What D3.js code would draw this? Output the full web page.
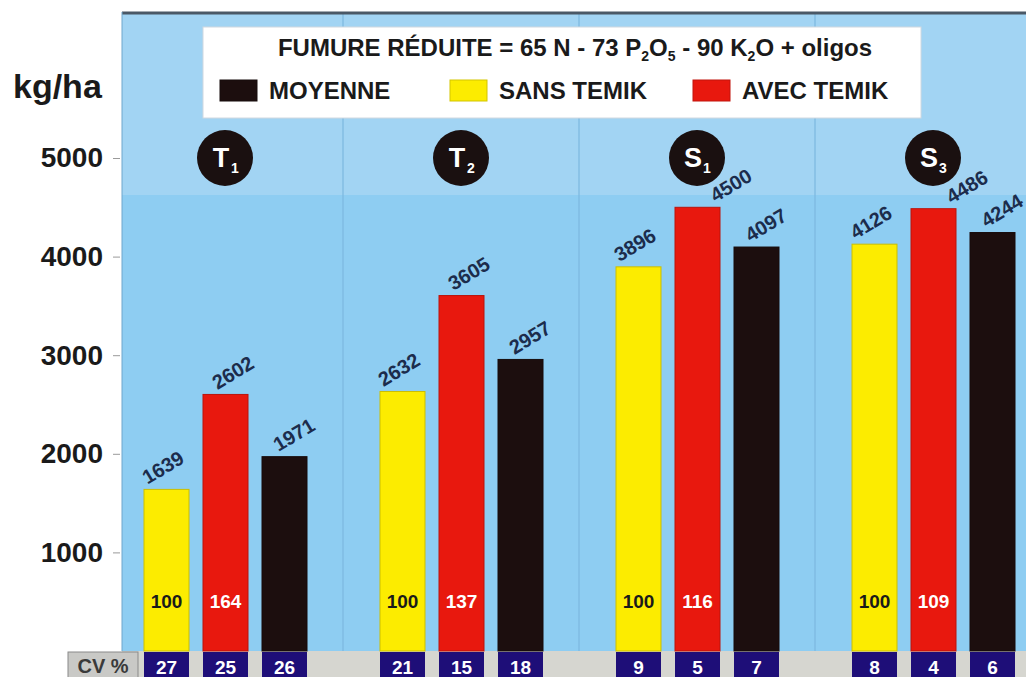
<!DOCTYPE html>
<html><head><meta charset="utf-8">
<script src="https://cdn.jsdelivr.net/npm/d3@7"></script>
<style>
html,body{margin:0;padding:0;background:#fff;overflow:hidden;}
text{font-family:"Liberation Sans",Arial,sans-serif;font-weight:bold;}
</style></head>
<body>
<svg id="chart" width="1026" height="677"></svg>
<script>
// ---- data ----
const groups = ["T1", "T2", "S1", "S3"];
const groupLetters = ["T", "T", "S", "S"];
const groupSubs = ["1", "2", "1", "3"];
const seriesNames = ["SANS TEMIK", "AVEC TEMIK", "MOYENNE"];
const sansTemik = [1639, 2632, 3896, 4126];
const avecTemik = [2602, 3605, 4500, 4486];
const moyenne = [1971, 2957, 4097, 4244];
const indexSans = [100, 100, 100, 100];
const indexAvec = [164, 137, 116, 109];
const cvSans = [27, 21, 9, 8];
const cvAvec = [25, 15, 5, 4];
const cvMoyenne = [26, 18, 7, 6];
const yTicks = [1000, 2000, 3000, 4000, 5000];
const legendOrder = ["MOYENNE", "SANS TEMIK", "AVEC TEMIK"];

// ---- styles ----
const colors = {"SANS TEMIK": "#fcec00", "AVEC TEMIK": "#e8180e", "MOYENNE": "#1c0e0e"};
const blue = "#8ecdf2", blueTop = "#a2d4f3";

const svg = d3.select("#chart");
const W = 1026, H = 677;
const plotLeft = 122, plotTop = 12, baseY = 651;

const x = d3.scaleBand().domain(groups).range([107, 1051]).padding(0);
const xi = d3.scaleBand().domain(seriesNames).range([30, 207]).paddingInner(14 / 59).paddingOuter(7 / 59);
const y = d3.scaleLinear().domain([0, 5000]).range([baseY, 158]);

// backgrounds
svg.append("rect").attr("x", plotLeft).attr("y", plotTop).attr("width", W - plotLeft).attr("height", baseY - plotTop).attr("fill", blue);
svg.append("rect").attr("x", plotLeft).attr("y", plotTop).attr("width", W - plotLeft).attr("height", 195 - plotTop).attr("fill", blueTop);
// panel separators
svg.selectAll("line.sep").data(groups.slice(1)).enter().append("line")
  .attr("x1", d => x(d)).attr("x2", d => x(d)).attr("y1", plotTop).attr("y2", baseY)
  .attr("stroke", "#7cb8e0").attr("stroke-width", 1.2);
// top border
svg.append("line").attr("x1", plotLeft).attr("x2", W).attr("y1", plotTop + 1).attr("y2", plotTop + 1)
  .attr("stroke", "#4a5866").attr("stroke-width", 3);
svg.append("line").attr("x1", plotLeft).attr("x2", plotLeft).attr("y1", plotTop).attr("y2", baseY)
  .attr("stroke", "#6fa6cc").attr("stroke-width", 1);

// CV row
svg.append("rect").attr("x", plotLeft).attr("y", baseY).attr("width", W - plotLeft).attr("height", H - baseY).attr("fill", "#d6d6d0");
svg.append("rect").attr("x", 68).attr("y", baseY + 1).attr("width", 70).attr("height", H - baseY).attr("fill", "#c9c9c6")
  .attr("stroke", "#8a8a8a").attr("stroke-width", 1);
svg.append("text").attr("x", 103).attr("y", 673).attr("text-anchor", "middle").attr("font-size", 20).attr("fill", "#3a3a3a").text("CV %");

// y axis
const yAxis = d3.axisLeft(y).tickValues(yTicks).tickSize(7).tickPadding(10).tickFormat(d3.format("d"));
const gy = svg.append("g").attr("transform", `translate(${plotLeft - 2},0)`).call(yAxis);
gy.select(".domain").remove();
gy.selectAll(".tick line").attr("stroke", "#9a9a9a");
gy.selectAll(".tick text").attr("font-size", 28).attr("fill", "#1a1a1a")
  .attr("font-family", "'Liberation Sans',Arial,sans-serif").attr("font-weight", "bold");
svg.append("text").attr("x", 13).attr("y", 98).attr("font-size", 34).attr("fill", "#1a1a1a").text("kg/ha");

// bars data
const rows = [];
groups.forEach((g, i) => {
  rows.push({g, s: "SANS TEMIK", v: sansTemik[i], idx: indexSans[i], cv: cvSans[i]});
  rows.push({g, s: "AVEC TEMIK", v: avecTemik[i], idx: indexAvec[i], cv: cvAvec[i]});
  rows.push({g, s: "MOYENNE", v: moyenne[i], idx: null, cv: cvMoyenne[i]});
});
const bx = d => x(d.g) + xi(d.s);
const bw = xi.bandwidth();

svg.selectAll("rect.bar").data(rows).enter().append("rect")
  .attr("x", bx).attr("y", d => y(d.v)).attr("width", bw).attr("height", d => y(0) - y(d.v))
  .attr("fill", d => colors[d.s]).attr("stroke", d => d3.color(colors[d.s]).darker(0.6)).attr("stroke-width", 1);

// value labels (rotated); labels that would run into a group badge are pushed right
const circleY = 158, circleR = 28;
const labelDx = {"SANS TEMIK": 0, "AVEC TEMIK": 11, "MOYENNE": 13};
const labelShift = d => (d.s === "AVEC TEMIK" && y(d.v) - 40 < circleY + circleR) ? 37 : labelDx[d.s];
svg.selectAll("text.val").data(rows).enter().append("text")
  .attr("transform", d => `translate(${bx(d) + bw / 2 + labelShift(d)},${y(d.v) - 16}) rotate(-31)`)
  .attr("text-anchor", "middle").attr("font-size", 20).attr("fill", "#1c2c4c").text(d => d.v);

// index labels
svg.selectAll("text.idx").data(rows.filter(d => d.idx !== null)).enter().append("text")
  .attr("x", d => bx(d) + bw / 2).attr("y", 608).attr("text-anchor", "middle").attr("font-size", 19)
  .attr("fill", d => d.s === "SANS TEMIK" ? "#1a1a1a" : "#ffffff").text(d => d.idx);

// CV boxes
svg.selectAll("rect.cv").data(rows).enter().append("rect")
  .attr("x", bx).attr("y", baseY + 1).attr("width", bw).attr("height", H - baseY).attr("fill", "#1e0e78");
svg.selectAll("text.cv").data(rows).enter().append("text")
  .attr("x", d => bx(d) + bw / 2).attr("y", 674).attr("text-anchor", "middle").attr("font-size", 19)
  .attr("fill", "#ffffff").text(d => d.cv);

// group circles
const gc = svg.selectAll("g.grp").data(groups).enter().append("g")
  .attr("transform", g => `translate(${x(g) + 118},${circleY})`);
gc.append("circle").attr("r", circleR).attr("fill", "#1a1010");
gc.append("text").attr("x", -4).attr("y", 9).attr("text-anchor", "middle").attr("font-size", 27).attr("fill", "#fff")
  .text((g, i) => groupLetters[i]);
gc.append("text").attr("x", 10).attr("y", 15).attr("text-anchor", "middle").attr("font-size", 14).attr("fill", "#fff")
  .text((g, i) => groupSubs[i]);

// legend box
svg.append("rect").attr("x", 203).attr("y", 27).attr("width", 718).attr("height", 91).attr("fill", "#ffffff")
  .attr("stroke", "#d0d8e0").attr("stroke-width", 1);
const title = svg.append("text").attr("x", 575).attr("y", 56).attr("text-anchor", "middle").attr("font-size", 24).attr("fill", "#1a1a1a");
title.append("tspan").text("FUMURE RÉDUITE = 65 N - 73 P");
title.append("tspan").attr("font-size", 14).attr("dy", 5).text("2");
title.append("tspan").attr("dy", -5).text("O");
title.append("tspan").attr("font-size", 14).attr("dy", 5).text("5");
title.append("tspan").attr("dy", -5).text(" - 90 K");
title.append("tspan").attr("font-size", 14).attr("dy", 5).text("2");
title.append("tspan").attr("dy", -5).text("O + oligos");

const legX = {"MOYENNE": 220, "SANS TEMIK": 450, "AVEC TEMIK": 693};
const lg = svg.selectAll("g.leg").data(legendOrder).enter().append("g")
  .attr("transform", d => `translate(${legX[d]},80)`);
lg.append("rect").attr("width", 37).attr("height", 21).attr("fill", d => colors[d]).attr("stroke", d => d3.color(colors[d]).darker(0.5));
lg.append("text").attr("x", 49).attr("y", 19).attr("font-size", 24).attr("fill", "#1a1a1a").text(d => d);
</script>
</body></html>
